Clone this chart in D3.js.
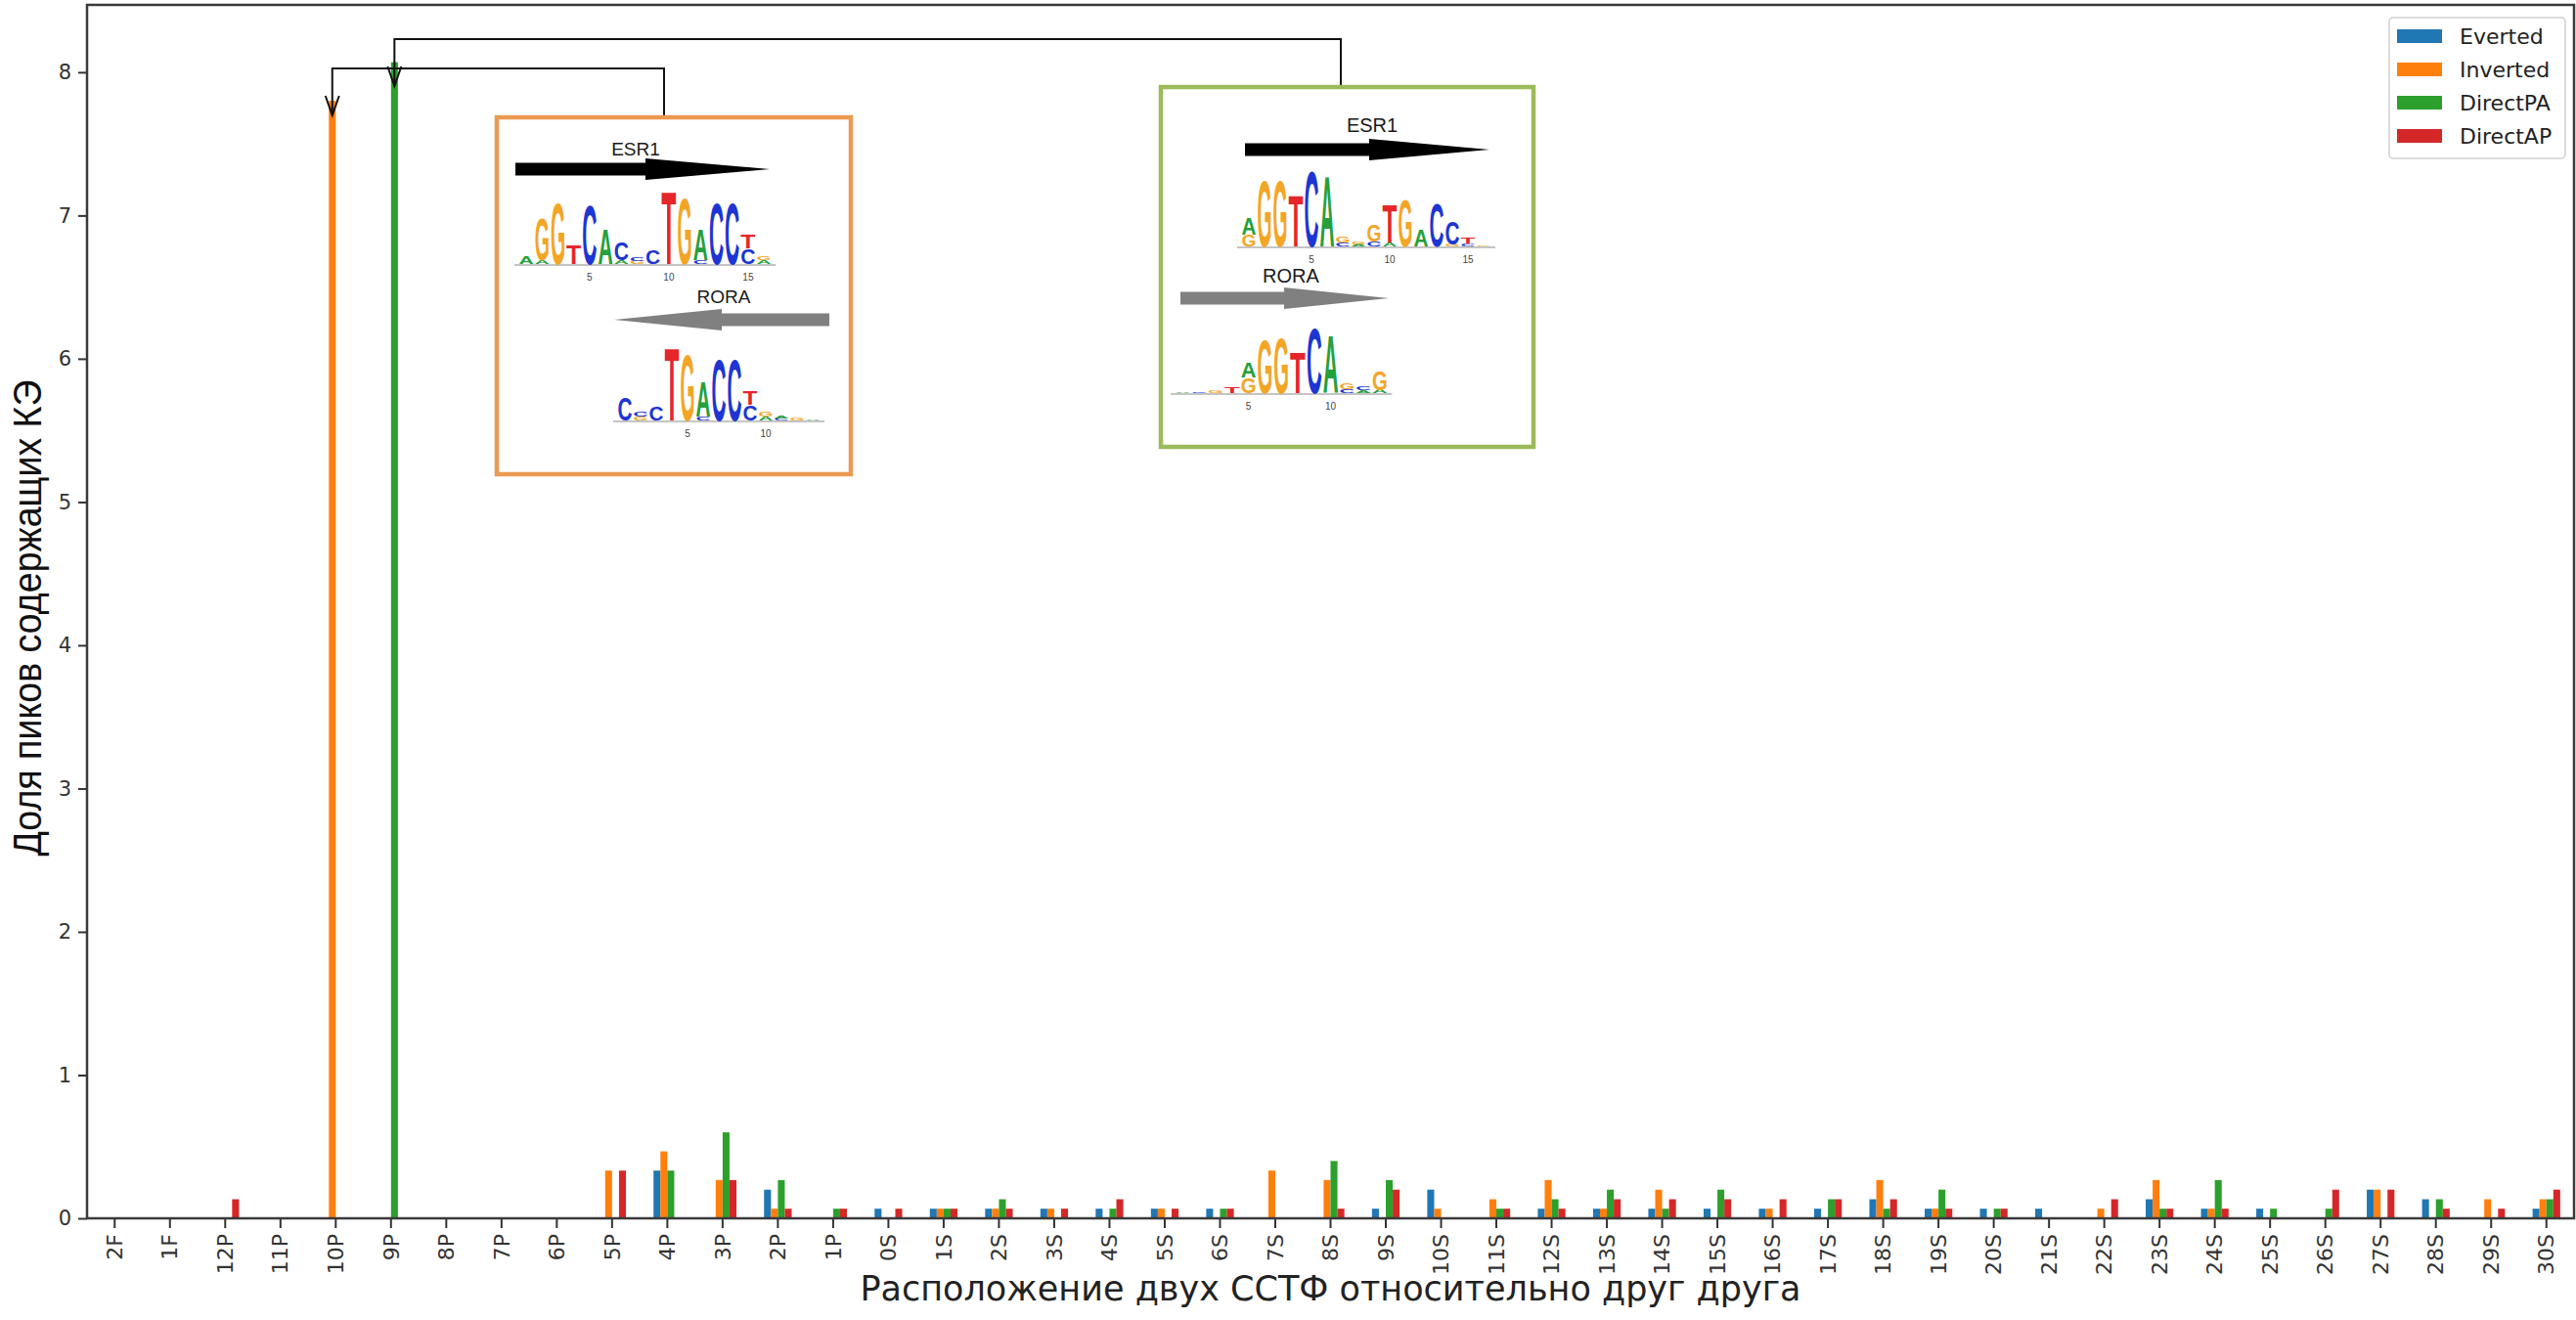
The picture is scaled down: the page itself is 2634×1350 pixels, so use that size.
<!DOCTYPE html>
<html>
<head>
<meta charset="utf-8">
<script src="https://cdn.jsdelivr.net/npm/d3@7"></script>
<style>
  body { margin: 0; background: #fff; }
  svg { display: block; }
</style>
</head>
<body>
<svg id="chart"></svg>
<script>
// categories on the x axis
let categories = ["2F", "1F", "12P", "11P", "10P", "9P", "8P", "7P", "6P", "5P", "4P", "3P", "2P", "1P",
    "0S", "1S", "2S", "3S", "4S", "5S", "6S", "7S", "8S", "9S", "10S", "11S", "12S", "13S", "14S", "15S",
    "16S", "17S", "18S", "19S", "20S", "21S", "22S", "23S", "24S", "25S", "26S", "27S", "28S", "29S", "30S"];

let seriesNames = ["Everted", "Inverted", "DirectPA", "DirectAP"];

let everted = [0, 0, 0, 0, 0, 0, 0, 0, 0, 0, 0.333, 0, 0.2, 0, 0.067, 0.067, 0.067, 0.067, 0.067, 0.067,
    0.067, 0, 0, 0.067, 0.2, 0, 0.067, 0.067, 0.067, 0.067, 0.067, 0.067, 0.133, 0.067, 0.067, 0.067,
    0, 0.133, 0.067, 0.067, 0, 0.2, 0.133, 0, 0.067];
let inverted = [0, 0, 0, 0, 7.8, 0, 0, 0, 0, 0.333, 0.467, 0.267, 0.067, 0, 0, 0.067, 0.067, 0.067, 0, 0.067,
    0, 0.333, 0.267, 0, 0.067, 0.133, 0.267, 0.067, 0.2, 0, 0.067, 0, 0.267, 0.067, 0, 0,
    0.067, 0.267, 0.067, 0, 0, 0.2, 0, 0.133, 0.133];
let directPA = [0, 0, 0, 0, 0, 8.07, 0, 0, 0, 0, 0.333, 0.6, 0.267, 0.067, 0, 0.067, 0.133, 0, 0.067, 0,
    0.067, 0, 0.4, 0.267, 0, 0.067, 0.133, 0.2, 0.067, 0.2, 0, 0.133, 0.067, 0.2, 0.067, 0,
    0, 0.067, 0.267, 0.067, 0.067, 0, 0.133, 0, 0.133];
let directAP = [0, 0, 0.133, 0, 0, 0, 0, 0, 0, 0.333, 0, 0.267, 0.067, 0.067, 0.067, 0.067, 0.067, 0.067, 0.133, 0.067,
    0.067, 0, 0.067, 0.2, 0, 0.067, 0.067, 0.133, 0.133, 0.133, 0.133, 0.133, 0.133, 0.067, 0.067, 0,
    0.133, 0.067, 0.067, 0, 0.2, 0.2, 0.067, 0.067, 0.2];

let yTicks = [0, 1, 2, 3, 4, 5, 6, 7, 8];

// sequence logos in the insets: each column is a stack [letter, bits] from bottom to top
let esr1LogoInv = [[["A", 0.2]], [["A", 0.1], ["G", 1.1]], [["G", 1.6]], [["T", 0.5]], [["C", 1.55]], [["A", 0.9]],
    [["A", 0.1], ["C", 0.45]], [["G", 0.08], ["C", 0.1]], [["C", 0.35]], [["T", 1.9]], [["G", 1.75]],
    [["C", 0.1], ["A", 0.8]], [["C", 1.6]], [["C", 1.6]], [["C", 0.4], ["T", 0.35]], [["A", 0.1], ["G", 0.08]]];
let roraLogoInv = [[["C", 0.6]], [["G", 0.1], ["C", 0.12]], [["C", 0.35]], [["T", 1.9]], [["G", 1.75]],
    [["C", 0.1], ["A", 0.9]], [["C", 1.6]], [["C", 1.6]], [["C", 0.4], ["T", 0.35]], [["A", 0.1], ["G", 0.12]],
    [["C", 0.05], ["A", 0.05]], [["G", 0.05]], [["A", 0.04]]];
let esr1LogoDir = [[["G", 0.3], ["A", 0.45]], [["G", 1.75]], [["G", 1.75]], [["T", 1.35]], [["C", 2.0]], [["A", 1.85]],
    [["C", 0.1], ["G", 0.15]], [["A", 0.06], ["G", 0.06]], [["C", 0.12], ["G", 0.45]], [["A", 0.1], ["T", 1.0]],
    [["G", 1.25]], [["A", 0.45]], [["C", 1.15]], [["G", 0.05], ["C", 0.6]], [["C", 0.08], ["T", 0.15]], [["G", 0.04]]];
let roraLogoDir = [[["A", 0.03]], [["C", 0.05]], [["G", 0.08]], [["T", 0.2]], [["G", 0.45], ["A", 0.45]],
    [["G", 1.6]], [["G", 1.65]], [["T", 1.2]], [["C", 1.95]], [["A", 1.7]], [["C", 0.12], ["G", 0.2]],
    [["A", 0.08], ["C", 0.12]], [["A", 0.1], ["G", 0.55]]];

let width = 2634;
let height = 1350;
let margin = {top: 5, right: 2, bottom: 104, left: 89};
let colors = ["#1f77b4", "#ff7f0e", "#2ca02c", "#d62728"];
let letterColor = {A: "#25a03b", C: "#1d35d2", G: "#f3a526", T: "#e5262b"};
let allSeries = [everted, inverted, directPA, directAP];

let svg = d3.select("#chart")
    .attr("width", width)
    .attr("height", height)
    .style("font-family", "'DejaVu Sans', sans-serif");

let x = d3.scaleBand()
    .domain(categories)
    .range([margin.left, width - margin.right])
    .padding(0);

// pandas bar plot: 4 bars share half of each band
let xInner = d3.scaleBand()
    .domain(seriesNames)
    .range([x.bandwidth() * 0.25, x.bandwidth() * 0.75]);

let y = d3.scaleLinear()
    .domain([0, 8.47])
    .range([height - margin.bottom, margin.top]);

let rows = categories.map(function (c, i) {
    return {cat: c, values: allSeries.map(function (s, k) { return {name: seriesNames[k], value: s[i], k: k}; })};
});

// bars
let groups = svg.append("g")
    .selectAll("g")
    .data(rows)
    .enter().append("g")
    .attr("transform", function (d) { return "translate(" + x(d.cat) + ",0)"; });

groups.selectAll("rect")
    .data(function (d) { return d.values.filter(function (v) { return v.value > 0; }); })
    .enter().append("rect")
    .attr("x", function (d) { return xInner(d.name); })
    .attr("width", xInner.bandwidth())
    .attr("y", function (d) { return y(d.value); })
    .attr("height", function (d) { return y(0) - y(d.value); })
    .attr("fill", function (d) { return colors[d.k]; });

// axes
let xAxis = svg.append("g")
    .attr("transform", "translate(0," + y(0) + ")")
    .call(d3.axisBottom(x).tickSize(10).tickPadding(6));
xAxis.select(".domain").remove();
xAxis.selectAll("line").attr("stroke", "#333").attr("stroke-width", 2);
xAxis.selectAll("text")
    .attr("transform", "rotate(-90)")
    .attr("text-anchor", "end")
    .attr("x", -16)
    .attr("y", 0)
    .attr("dy", "0.35em")
    .style("font-size", "22px")
    .style("font-family", "'DejaVu Sans', sans-serif")
    .attr("fill", "#333");

let yAxis = svg.append("g")
    .attr("transform", "translate(" + margin.left + ",0)")
    .call(d3.axisLeft(y).tickValues(yTicks).tickFormat(d3.format("d")).tickSize(9).tickPadding(7));
yAxis.select(".domain").remove();
yAxis.selectAll("line").attr("stroke", "#333").attr("stroke-width", 2);
yAxis.selectAll("text")
    .style("font-size", "21px")
    .style("font-family", "'DejaVu Sans', sans-serif")
    .attr("fill", "#333");

// frame
svg.append("rect")
    .attr("x", margin.left)
    .attr("y", margin.top)
    .attr("width", width - margin.right - margin.left)
    .attr("height", y(0) - margin.top)
    .attr("fill", "none")
    .attr("stroke", "#3a3a3a")
    .attr("stroke-width", 2.5);

// axis titles
svg.append("text")
    .attr("x", (margin.left + width - margin.right) / 2)
    .attr("y", 1330)
    .attr("text-anchor", "middle")
    .style("font-size", "35px")
    .attr("fill", "#222")
    .text("Расположение двух ССТФ относительно друг друга");

// the y title uses a narrow font in the reference
svg.append("text")
    .attr("transform", "translate(42,632) rotate(-90)")
    .attr("text-anchor", "middle")
    .attr("textLength", 487)
    .attr("lengthAdjust", "spacingAndGlyphs")
    .style("font-family", "'Liberation Sans', Arial, sans-serif")
    .style("font-size", "40px")
    .attr("fill", "#111")
    .text("Доля пиков содержащих КЭ");

// legend
let legend = svg.append("g").attr("transform", "translate(2443,18)");
legend.append("rect")
    .attr("width", 180).attr("height", 144)
    .attr("rx", 4)
    .attr("fill", "#fff")
    .attr("stroke", "#d0d0d0")
    .attr("stroke-width", 1.5);
seriesNames.forEach(function (n, i) {
    legend.append("rect")
        .attr("x", 8).attr("y", 12 + i * 34)
        .attr("width", 46).attr("height", 14)
        .attr("fill", colors[i]);
    legend.append("text")
        .attr("x", 72).attr("y", 19 + i * 34)
        .attr("dy", "0.35em")
        .style("font-size", "22px")
        .attr("fill", "#222")
        .text(n);
});

// connectors from the insets to the two tall bars
function connector(xBar, tipY, hY, xBox, boxY) {
    let g = svg.append("g").attr("fill", "none").attr("stroke", "#111").attr("stroke-width", 2);
    g.append("path").attr("d", d3.line()([[xBox, boxY], [xBox, hY], [xBar, hY], [xBar, tipY]]));
    g.append("path").attr("d", d3.line()([[xBar - 7, tipY - 20], [xBar, tipY], [xBar + 7, tipY - 20]]));
}
connector(x("10P") + xInner("Inverted") + xInner.bandwidth() / 2, 118, 70, 679, 120);
connector(x("9P") + xInner("DirectPA") + xInner.bandwidth() / 2, 88, 40, 1371, 89);

// inset boxes
function box(x0, y0, x1, y1, color) {
    svg.append("rect")
        .attr("x", x0).attr("y", y0)
        .attr("width", x1 - x0).attr("height", y1 - y0)
        .attr("fill", "#fff")
        .attr("stroke", color)
        .attr("stroke-width", 4.5);
}
box(508, 120, 870, 485, "#eb9a52");
box(1187, 89, 1568, 457, "#9bba5a");

function bigArrow(xTail, xHead, xTip, yc, color) {
    let pts = [[xTail, yc - 6.5], [xHead, yc - 6.5], [xHead, yc - 11], [xTip, yc],
        [xHead, yc + 11], [xHead, yc + 6.5], [xTail, yc + 6.5]];
    svg.append("path").attr("d", d3.line()(pts) + "Z").attr("fill", color);
}

function label(txt, cx, cy, size) {
    svg.append("text")
        .attr("x", cx).attr("y", cy)
        .attr("text-anchor", "middle")
        .attr("dy", "0.35em")
        .style("font-family", "'Liberation Sans', Arial, sans-serif")
        .style("font-size", size + "px")
        .attr("fill", "#1a1a1a")
        .text(txt);
}

function logo(cols, x0, pitch, baseY, pxPerBit, tickLabels) {
    let g = svg.append("g");
    let hs = d3.scaleLinear().domain([0, 1]).range([0, pxPerBit]);
    g.append("line")
        .attr("x1", x0 - 4).attr("x2", x0 + cols.length * pitch + 4)
        .attr("y1", baseY + 1).attr("y2", baseY + 1)
        .attr("stroke", "#8a8a8a").attr("stroke-width", 1.2);
    cols.forEach(function (stack, i) {
        let yb = baseY;
        let lx = x0 + i * pitch;
        stack.forEach(function (s) {
            let h = hs(s[1]);
            g.append("text")
                .attr("x", 0).attr("y", 0)
                .attr("textLength", 70)
                .attr("lengthAdjust", "spacingAndGlyphs")
                .attr("transform", "translate(" + (lx + 0.5) + "," + yb + ") scale(" + ((pitch - 1) / 70) + "," + (h / 72) + ")")
                .style("font-family", "'Liberation Sans', Arial, sans-serif")
                .style("font-weight", "bold")
                .style("font-size", "100px")
                .attr("fill", letterColor[s[0]])
                .text(s[0]);
            yb -= h;
        });
    });
    tickLabels.forEach(function (t) {
        g.append("text")
            .attr("x", x0 + (t - 0.5) * pitch)
            .attr("y", baseY + 17)
            .attr("text-anchor", "middle")
            .style("font-family", "'Liberation Sans', Arial, sans-serif")
            .style("font-size", "10px")
            .attr("fill", "#444")
            .text(t);
    });
}

// orange inset (Inverted)
label("ESR1", 650, 152, 19);
bigArrow(527, 660, 787, 173, "#000");
logo(esr1LogoInv, 530, 16.2, 270, 40, [5, 10, 15]);
label("RORA", 740, 303, 19);
bigArrow(848, 738, 628, 327, "#808080");
logo(roraLogoInv, 631, 16, 430, 40, [5, 10]);

// green inset (DirectPA)
label("ESR1", 1403, 128, 20);
bigArrow(1273, 1400, 1523, 153, "#000");
logo(esr1LogoDir, 1269, 16, 252, 39.5, [5, 10, 15]);
label("RORA", 1320, 282, 20);
bigArrow(1207, 1313, 1420, 305, "#808080");
logo(roraLogoDir, 1201, 16.8, 402, 35, [5, 10]);
</script>
</body>
</html>
